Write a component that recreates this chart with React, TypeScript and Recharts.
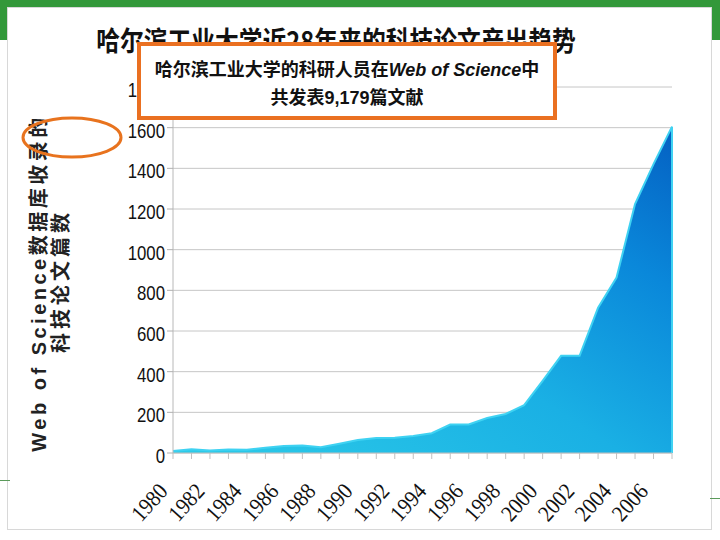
import { AreaChart, Area, XAxis, YAxis, CartesianGrid, ReferenceLine } from 'recharts';

// papers per year
const years = [
  1980, 1981, 1982, 1983, 1984, 1985, 1986, 1987, 1988, 1989,
  1990, 1991, 1992, 1993, 1994, 1995, 1996, 1997, 1998, 1999,
  2000, 2001, 2002, 2003, 2004, 2005, 2006, 2007,
];
const papers = [
  10, 18, 12, 17, 16, 26, 35, 37, 28, 45,
  64, 74, 75, 84, 97, 140, 140, 172, 192, 235,
  355, 478, 478, 715, 863, 1224, 1421, 1605,
];
const yTicks = [0, 200, 400, 600, 800, 1000, 1200, 1400, 1600, 1800];

const title = '哈尔滨工业大学近28年来的科技论文产出趋势';
const noteLine1 = '哈尔滨工业大学的科研人员在';
const noteItalic = 'Web of Science';
const noteLine1End = '中';
const noteLine2 = '共发表9,179篇文献';
const yLabel1 = 'Web of Science数据库收录的';
const yLabel2 = '科技论文篇数';

const data = years.map((year, i) => ({ year, papers: papers[i] }));

const XTick = (props: any) => {
  const { x, y, payload } = props;
  if (payload.value % 2 !== 0) return null;
  const px = x - 4;
  const py = y + 31;
  return (
    <g transform={`translate(${px}, ${py}) rotate(-48) scale(0.9, 1)`}>
      <text
        x={0}
        y={0}
        textAnchor="end"
        fontFamily="'Liberation Serif', 'DejaVu Serif', serif"
        fontSize={23}
        fill="#111"
      >
        {payload.value}
      </text>
    </g>
  );
};

const YTick = (props: any) => {
  const { x, y, payload } = props;
  return (
    <g transform={`translate(${x}, ${y + 3}) scale(0.84, 1)`}>
      <text
        x={0}
        y={0}
        dy="0.355em"
        textAnchor="end"
        fontFamily="'Liberation Sans', Arial, sans-serif"
        fontSize={20}
        fill="#111"
      >
        {payload.value}
      </text>
    </g>
  );
};

export default function App() {
  return (
    <div style={{ position: 'absolute', left: 0, top: 0, width: 720, height: 540, background: '#fff', overflow: 'hidden' }}>
      {/* slide frame */}
      <div style={{ position: 'absolute', left: 0, top: 0, width: 720, height: 40, background: '#33983a' }} />
      <div style={{ position: 'absolute', left: 7, top: 7, width: 705, height: 523, background: '#fff', border: '1px solid #d8d8d8', boxSizing: 'border-box' }} />
      <div style={{ position: 'absolute', left: 0, top: 480, width: 10, height: 1, background: '#5a9a5a' }} />
      <div style={{ position: 'absolute', left: 710, top: 498, width: 10, height: 1, background: '#5a9a5a' }} />

      <div style={{ position: 'absolute', left: 0, top: 0 }}>
        <AreaChart width={720} height={540} data={data} margin={{ top: 87, right: 48, bottom: 27, left: 0 }}>
          <defs>
            <linearGradient id="areaFill" x1="0" y1="1" x2="1" y2="0">
              <stop offset="0%" stopColor="#2ccbe8" />
              <stop offset="45%" stopColor="#1ab0e4" />
              <stop offset="75%" stopColor="#0a88da" />
              <stop offset="100%" stopColor="#0460c2" />
            </linearGradient>
          </defs>
          <CartesianGrid vertical={false} stroke="#c6c6c6" />
          <XAxis
            dataKey="year"
            interval={0}
            height={60}
            tick={<XTick />}
            tickLine={{ stroke: '#c0c0c0' }}
            axisLine={{ stroke: '#c0c0c0' }}
            tickSize={6}
          />
          <YAxis
            width={173}
            domain={[0, 1800]}
            ticks={yTicks}
            interval={0}
            tick={<YTick />}
            tickLine={{ stroke: '#b0b0b0' }}
            axisLine={{ stroke: '#b8b8b8' }}
          />
          <Area
            type="linear"
            dataKey="papers"
            stroke="#3fd2f2"
            strokeWidth={2}
            fill="url(#areaFill)"
            fillOpacity={1}
            isAnimationActive={false}
          />
          <ReferenceLine
            segment={[
              { x: years[years.length - 1], y: 0 },
              { x: years[years.length - 1], y: papers[papers.length - 1] },
            ]}
            stroke="#3fd2f2"
            strokeWidth={2}
          />
        </AreaChart>
      </div>

      {/* title, partly hidden by the note box */}
      <div
        style={{
          position: 'absolute',
          left: 0,
          width: 672,
          top: 20,
          textAlign: 'center',
          fontFamily: "'Noto Sans CJK SC', sans-serif",
          fontWeight: 700,
          fontSize: 27,
          color: '#111',
          transform: 'scaleX(0.88)',
          whiteSpace: 'nowrap',
        }}
      >
        {title}
      </div>

      <div
        style={{
          position: 'absolute',
          left: 137,
          top: 42,
          width: 420,
          height: 78,
          border: '4px solid #ea7021',
          background: '#fff',
          boxSizing: 'border-box',
          fontFamily: "'Liberation Sans', 'Noto Sans CJK SC', sans-serif",
          fontWeight: 700,
          fontSize: 18,
          color: '#111',
          textAlign: 'center',
          lineHeight: '28px',
          paddingTop: 10,
        }}
      >
        <div>
          {noteLine1}
          <i>{noteItalic}</i>
          {noteLine1End}
        </div>
        <div>{noteLine2}</div>
      </div>

      <svg width={720} height={540} style={{ position: 'absolute', left: 0, top: 0, pointerEvents: 'none' }}>
        <text
          transform="translate(46, 283) rotate(-90)"
          textAnchor="middle"
          fontFamily="'Liberation Sans', 'Noto Sans CJK SC', sans-serif"
          fontWeight={700}
          fontSize={20}
          letterSpacing={3.5}
          fill="#222"
        >
          {yLabel1}
        </text>
        <text
          transform="translate(68, 281) rotate(-90)"
          textAnchor="middle"
          fontFamily="'Noto Sans CJK SC', sans-serif"
          fontWeight={700}
          fontSize={20}
          letterSpacing={4}
          fill="#222"
        >
          {yLabel2}
        </text>
        <ellipse cx={72} cy={137.5} rx={49} ry={19.5} fill="none" stroke="#e8731e" strokeWidth={3} />
      </svg>
    </div>
  );
}
